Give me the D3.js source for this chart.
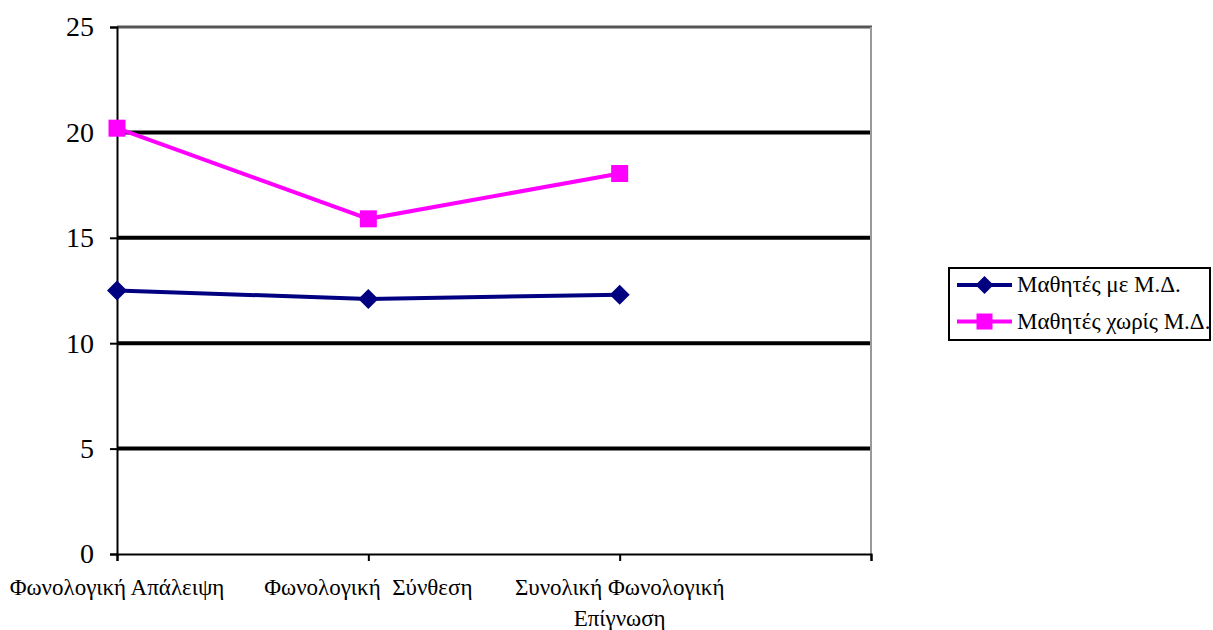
<!DOCTYPE html>
<html><head><meta charset="utf-8">
<script src="https://cdn.jsdelivr.net/npm/d3@7"></script>
<style>body{margin:0;background:#fff}svg{display:block}</style>
</head><body><svg id="c" width="1213" height="630"></svg>
<script>
const categories = ["Φωνολογική Απάλειψη", "Φωνολογική  Σύνθεση", "Συνολική Φωνολογική|Επίγνωση", ""];
const seriesNames = ["Μαθητές με Μ.Δ.", "Μαθητές χωρίς Μ.Δ."];
const withLD = [12.5, 12.1, 12.3];
const withoutLD = [20.2, 15.9, 18.05];
const yTicks = [0, 5, 10, 15, 20, 25];
const colors = ["#000080", "#FF00FF"];

const FONT = "'Liberation Serif', 'Times New Roman', Tinos, 'DejaVu Serif', serif";
const svg = d3.select("#c");
const L = 117, R = 871, T = 27, B = 554;
const x = d3.scalePoint().domain(d3.range(categories.length)).range([L, R]);
const y = d3.scaleLinear().domain([0, 25]).range([B, T]);

// gridlines
svg.append("g").selectAll("line").data([5,10,15,20]).join("line")
  .attr("x1", L).attr("x2", R).attr("y1", d => y(d)).attr("y2", d => y(d))
  .attr("stroke", "#000").attr("stroke-width", 4);
// top and right border
svg.append("line").attr("x1", L).attr("x2", R+1).attr("y1", y(25)).attr("y2", y(25)).attr("stroke", "#555").attr("stroke-width", 3);
svg.append("line").attr("x1", R).attr("x2", R).attr("y1", y(25)).attr("y2", B).attr("stroke", "#999").attr("stroke-width", 2);

// y axis
const ya = svg.append("g").attr("transform", `translate(${L},0)`)
  .call(d3.axisLeft(y).tickValues(yTicks).tickSize(7).tickPadding(16));
ya.attr("font-family", null);
ya.select(".domain").attr("stroke", "#000").attr("stroke-width", 2);
ya.selectAll(".tick line").attr("stroke", "#000").attr("stroke-width", 2);
ya.selectAll(".tick text").attr("font-size", 28).attr("fill", "#000").style("font-family", FONT);

// x axis
const xa = svg.append("g").attr("transform", `translate(0,${B})`)
  .call(d3.axisBottom(x).tickSize(7).tickFormat(""));
xa.select(".domain").attr("stroke", "#000").attr("stroke-width", 2);
xa.selectAll(".tick line").attr("stroke", "#000").attr("stroke-width", 2);
const xl = svg.append("g");
categories.forEach((c, i) => {
  if (!c) return;
  const lines = c.split("|");
  const t = xl.append("text").attr("text-anchor", "middle").attr("font-size", 23).attr("fill", "#000")
    .style("font-family", FONT).attr("x", x(i)).attr("y", 595).style("white-space", "pre");
  lines.forEach((ln, j) => t.append("tspan").attr("x", x(i)).attr("dy", j ? 31 : 0).text(ln));
});

// series
const line = d3.line().x((d, i) => x(i)).y(d => y(d));
const data = [withLD, withoutLD];
data.forEach((s, k) => {
  svg.append("path").datum(s).attr("d", line).attr("fill", "none")
    .attr("stroke", colors[k]).attr("stroke-width", 4);
});
const sq = 17, dm = 10;
svg.append("g").selectAll("rect").data(withoutLD).join("rect")
  .attr("x", (d, i) => x(i) - sq/2).attr("y", d => y(d) - sq/2)
  .attr("width", sq).attr("height", sq).attr("fill", colors[1]);
svg.append("g").selectAll("path").data(withLD).join("path")
  .attr("d", (d, i) => `M${x(i)},${y(d)-dm}L${x(i)+dm},${y(d)}L${x(i)},${y(d)+dm}L${x(i)-dm},${y(d)}Z`)
  .attr("fill", colors[0]);

// legend
const lg = svg.append("g");
lg.append("rect").attr("x", 949).attr("y", 268).attr("width", 261).attr("height", 72)
  .attr("fill", "#fff").attr("stroke", "#000").attr("stroke-width", 2);
seriesNames.forEach((n, k) => {
  const yy = k ? 321.5 : 285;
  lg.append("line").attr("x1", 957).attr("x2", 1012).attr("y1", yy).attr("y2", yy)
    .attr("stroke", colors[k]).attr("stroke-width", 4);
  if (k) lg.append("rect").attr("x", 984.5 - 8).attr("y", yy - 8).attr("width", 16).attr("height", 16).attr("fill", colors[k]);
  else lg.append("path").attr("d", `M984.5,${yy-9}L${993.5},${yy}L984.5,${yy+9}L975.5,${yy}Z`).attr("fill", colors[k]);
  lg.append("text").attr("x", 1017).attr("y", yy + 7).attr("font-size", 23).attr("fill", "#000")
    .style("font-family", FONT).text(n);
});
</script></body></html>
